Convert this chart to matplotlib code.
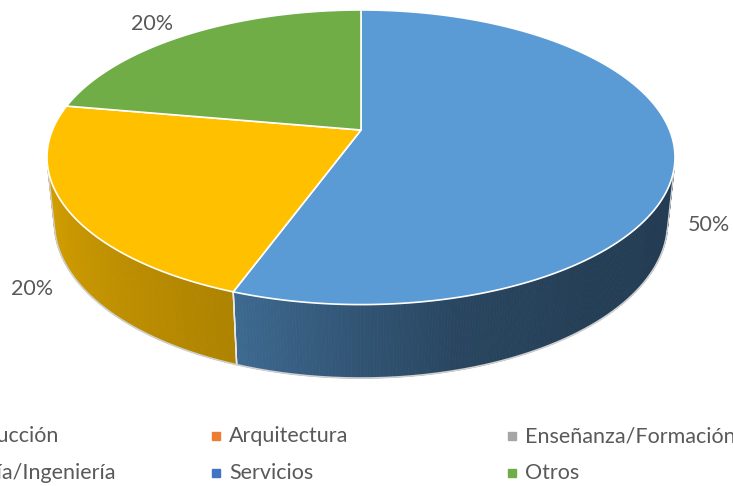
import numpy as np
import matplotlib
matplotlib.use("Agg")
import matplotlib.pyplot as plt
from matplotlib.patches import Polygon
from matplotlib.colors import to_rgb

# ---- data ----
categories = ["Construcción", "Arquitectura", "Enseñanza/Formación",
              "Asesoría/Ingeniería", "Servicios", "Otros"]
values = [50, 0, 0, 20, 0, 20]
colors = ["#5B9BD5", "#ED7D31", "#A5A5A5", "#FFC000", "#4472C4", "#70AD47"]

# ---- geometry / style (pixel space) ----
W, H = 733, 486
cx, cy = 361, 130
F = 1478.0
D = 4.79
tilt = np.arcsin(0.461)
s, c = np.sin(tilt), np.cos(tilt)
h = 0.2395
txt_col = "#595959"
plt.rcParams['font.family'] = ['Lato', 'DejaVu Sans']


def proj(x, d, z):
    Y = d * s + z * c
    Z = D + d * c - z * s
    return cx + F * x / Z, cy - F * Y / Z


def pt(theta_deg, r=1.0, z=0.0):
    t = np.deg2rad(theta_deg)
    return proj(r * np.sin(t), r * np.cos(t), z)


shade_t = [0, 90, 140, 165, 180, 200, 265, 360]
shade_f = [0.39, 0.39, 0.40, 0.45, 0.54, 0.68, 0.86, 0.86]

fig = plt.figure(figsize=(W / 100, H / 100), dpi=100)
ax = fig.add_axes([0, 0, 1, 1])
ax.set_xlim(0, W)
ax.set_ylim(H, 0)
ax.axis("off")

vals = np.array(values, dtype=float)
fracs = vals / vals.sum()
ends = np.cumsum(fracs) * 360
starts = ends - fracs * 360

# visibility limit of side wall
cos_lim = -1.0 / (D * c)
t_vis0 = np.rad2deg(np.arccos(cos_lim))
t_vis1 = 360 - t_vis0

# side walls
for i in range(len(vals)):
    if fracs[i] <= 0:
        continue
    a0, a1 = max(starts[i], t_vis0), min(ends[i], t_vis1)
    if a1 <= a0:
        continue
    ts = np.linspace(a0, a1, int((a1 - a0) * 2) + 2)
    base = np.array(to_rgb(colors[i]))
    for k in range(len(ts) - 1):
        tm = 0.5 * (ts[k] + ts[k + 1])
        f = np.interp(tm, shade_t, shade_f)
        col = np.clip(base * f, 0, 1)
        p = [pt(ts[k]), pt(ts[k + 1]), pt(ts[k + 1], z=-h), pt(ts[k], z=-h)]
        ax.add_patch(Polygon(p, closed=True, facecolor=col, edgecolor=col,
                             lw=0.6, zorder=1))

# vertical edges at visible slice boundaries
for b in starts:
    if t_vis0 < b < t_vis1:
        p0, p1 = pt(b), pt(b, z=-h)
        ax.plot([p0[0], p1[0]], [p0[1], p1[1]], color="#E8E8E8", lw=1.0, zorder=2)

# bottom outline and silhouettes
tb = np.linspace(t_vis0, t_vis1, 300)
bx, by = zip(*[pt(t, z=-h) for t in tb])
ax.plot(bx, by, color="#D0D0D0", lw=1.2, zorder=2)
for t in (t_vis0, t_vis1):
    p0, p1 = pt(t), pt(t, z=-h)
    ax.plot([p0[0], p1[0]], [p0[1], p1[1]], color="#D0D0D0", lw=1.0, zorder=2)

# top faces
for i in range(len(vals)):
    if fracs[i] <= 0:
        continue
    ts = np.linspace(starts[i], ends[i], 200)
    poly = [proj(0, 0, 0)] + [pt(t) for t in ts]
    ax.add_patch(Polygon(poly, closed=True, facecolor=colors[i],
                         edgecolor="white", lw=1.2, joinstyle="round", zorder=3))

# data labels
for i in range(len(vals)):
    if fracs[i] <= 0:
        continue
    tm = 0.5 * (starts[i] + ends[i])
    if np.cos(np.deg2rad(tm)) < 0:
        lx, ly = pt(tm, r=1.13, z=-h)
    else:
        lx, ly = pt(tm, r=1.24, z=-0.15 * h)
    ax.text(lx, ly, f"{values[i]:.0f}%", ha="center", va="center",
            fontsize=15.5, color=txt_col, zorder=5)

# legend (manual, 3 columns, wider than the figure)
col_x0, col_dx = -80, 296
row_y = [436, 473]
for i, (cat, colr) in enumerate(zip(categories, colors)):
    r, cidx = divmod(i, 3)
    x = col_x0 + cidx * col_dx
    y = row_y[r]
    ax.plot([x], [y], marker="s", markersize=5.5, color=colr, lw=0,
            clip_on=False, zorder=5)
    ax.text(x + 13, y, cat, ha="left", va="center", fontsize=15.5,
            color=txt_col, clip_on=False, zorder=5)

fig.savefig("out.png", dpi=100)
